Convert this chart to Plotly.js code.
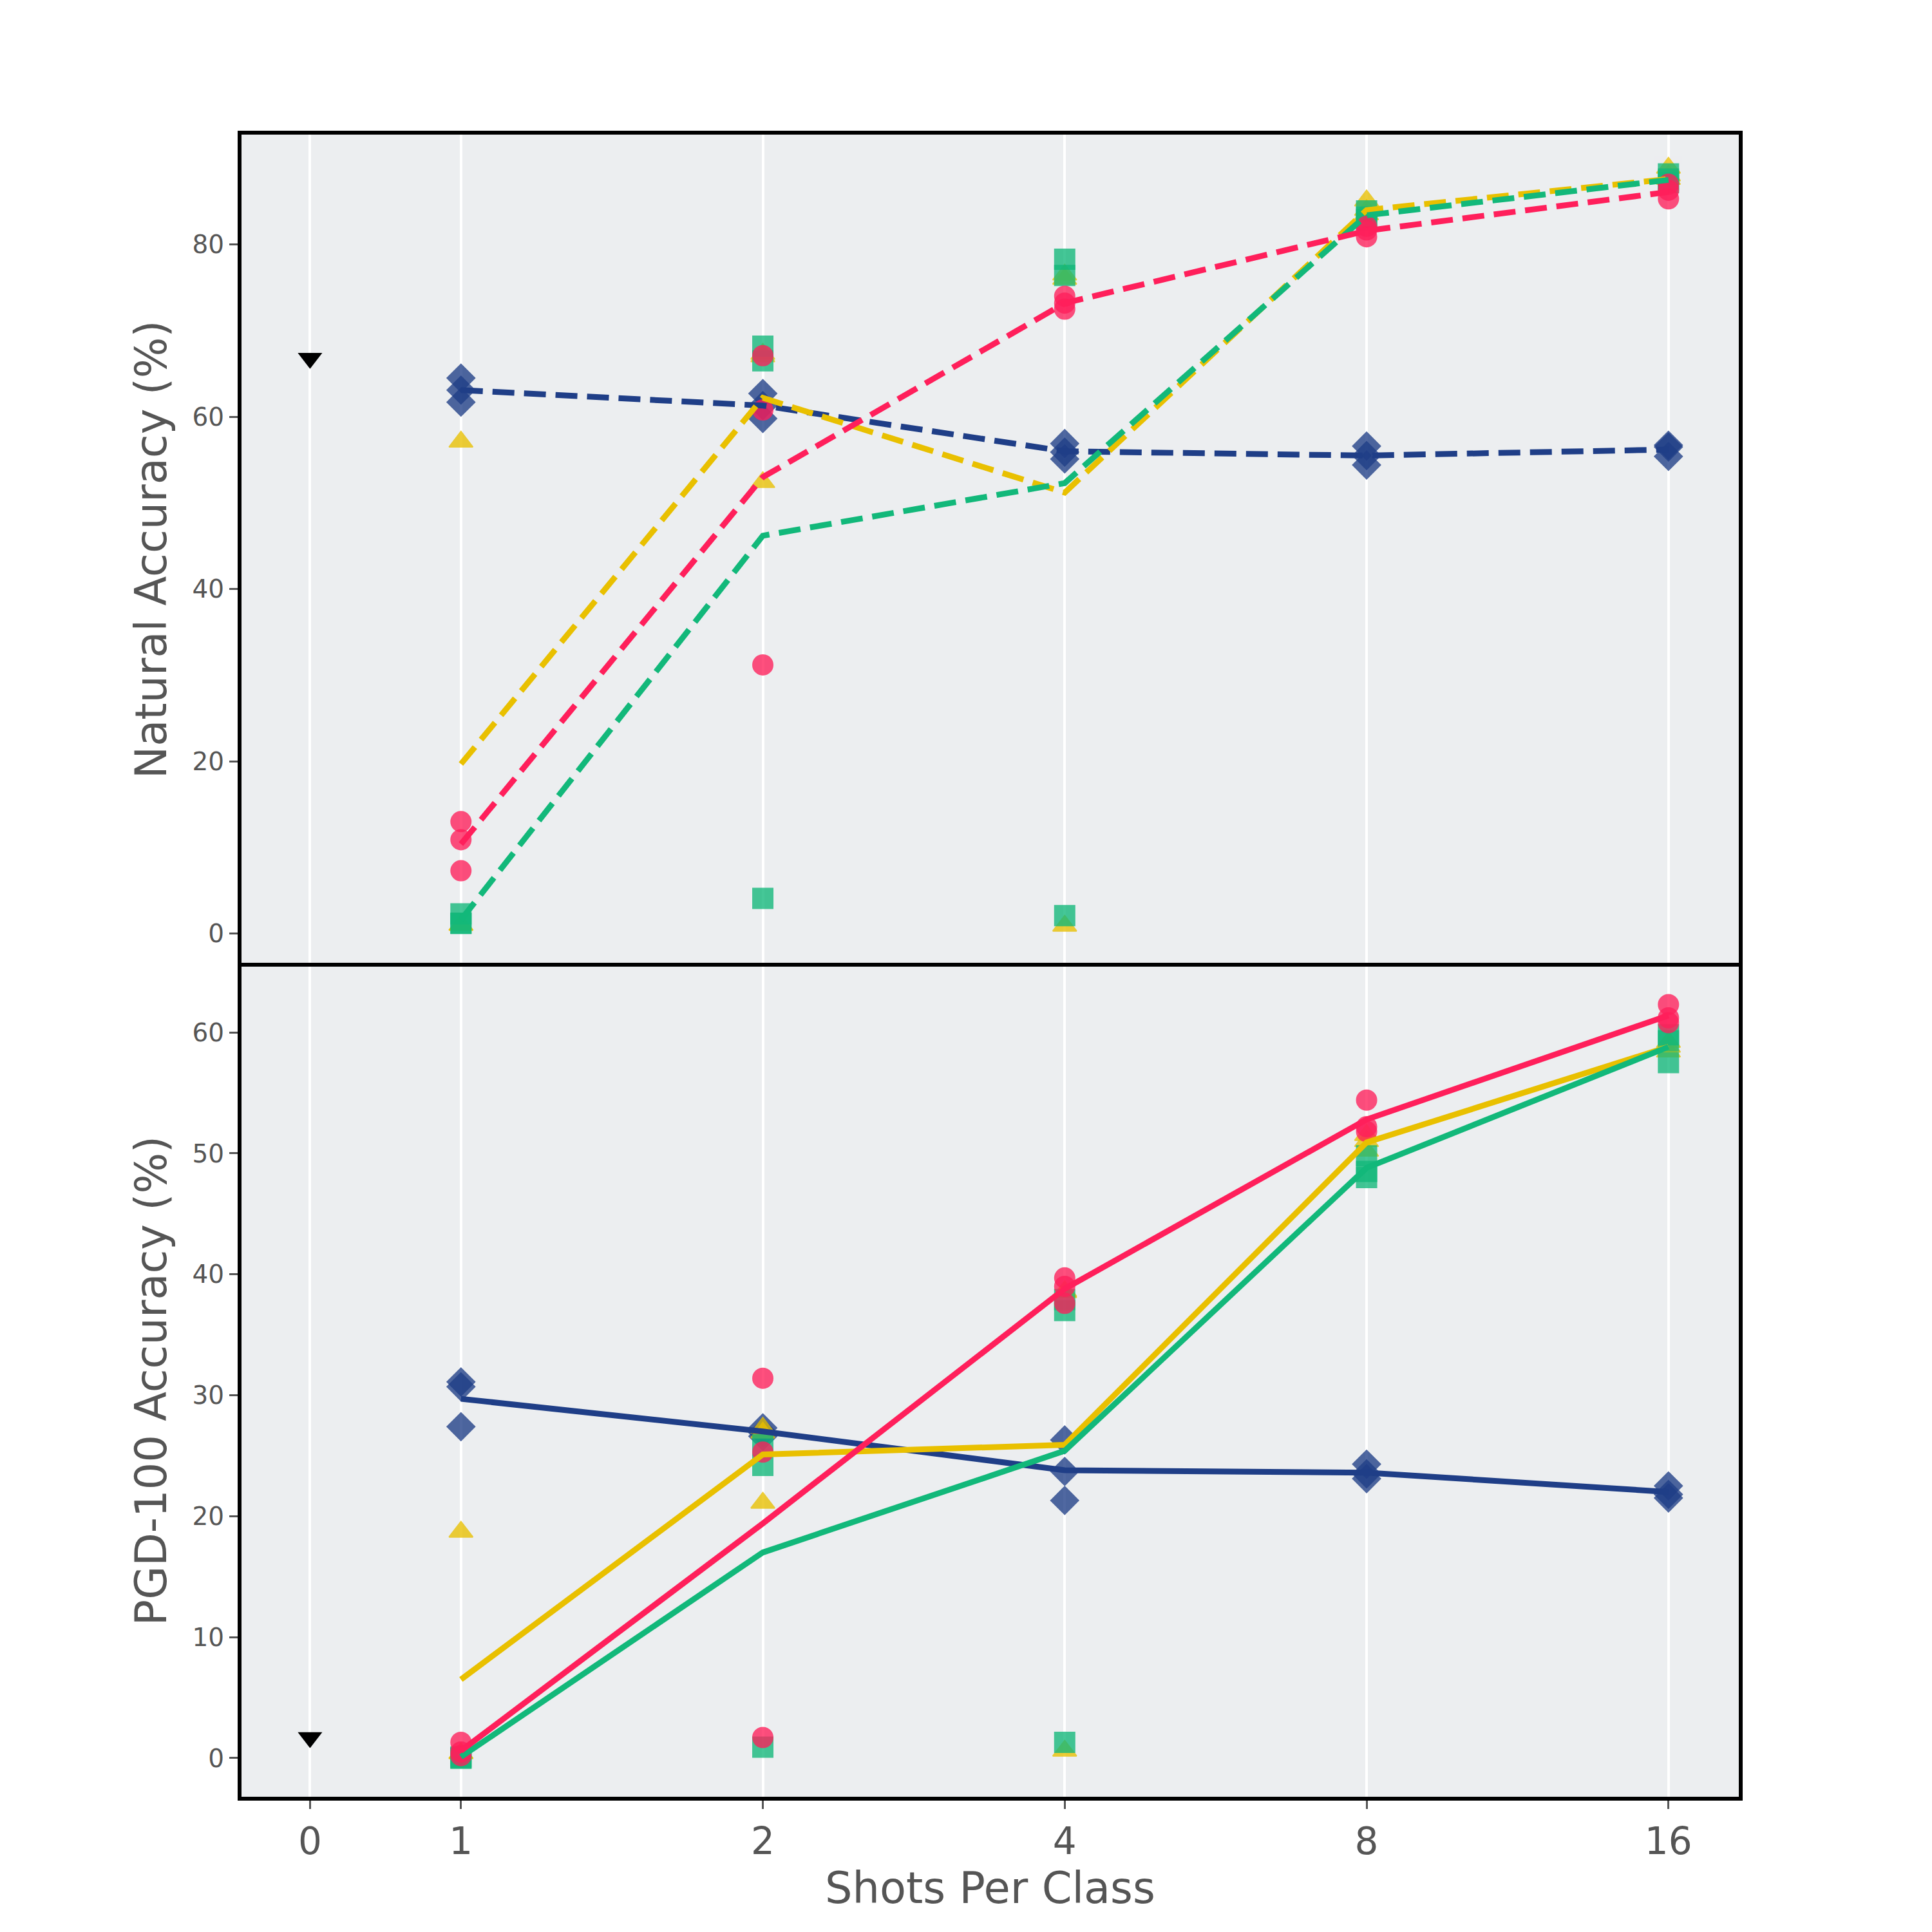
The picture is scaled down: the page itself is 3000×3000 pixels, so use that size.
<!DOCTYPE html>
<html>
<head>
<meta charset="utf-8">
<script src="https://cdn.plot.ly/plotly-3.0.1.min.js"></script>
<style>
  body { margin: 0; background: #fff; }
  #chart { width: 3000px; height: 3000px; }
</style>
</head>
<body>
<div id="chart"></div>
<script>
// shots per class, 0 is the zero-shot baseline
const shots = [1, 2, 4, 8, 16];
const tickShots = [0, 1, 2, 4, 8, 16];

// natural accuracy, three seeds per shot
const natNavySeeds = [[64.5, 63.1, 61.7], [62.7, 61.3, 59.8], [56.9, 55.9, 55.1], [56.6, 55.5, 54.4], [56.5, 56.7, 55.4]];
const natNavyMean = [63.1, 61.3, 56.0, 55.5, 56.2];
const natYellowSeeds = [[57.1, 1.0, 1.0], [52.4, 67.0, 67.3], [0.9, 76.0, 76.5], [85.1, 84.0, 83.5], [88.9, 88.0, 87.6]];
const natYellowMean = [19.7, 62.2, 51.2, 84.0, 87.6];
const natGreenSeeds = [[2.3, 1.2, 1.2], [68.2, 66.5, 4.1], [78.3, 76.4, 2.1], [83.9, 83.2, 82.9], [88.2, 87.6, 87.2]];
const natGreenMean = [1.6, 46.2, 52.3, 83.4, 87.5];
const natRedSeeds = [[13.0, 10.9, 7.3], [67.1, 60.8, 31.2], [74.0, 73.2, 72.5], [82.1, 81.7, 80.9], [87.0, 86.3, 85.3]];
const natRedMean = [10.4, 53.0, 73.2, 81.6, 86.1];
const natZeroShot = 66.8;

// PGD-100 accuracy, three seeds per shot
const pgdNavySeeds = [[31.1, 30.7, 27.4], [27.3, 26.9, 26.6], [26.3, 23.7, 21.3], [24.3, 23.5, 23.1], [22.5, 21.8, 21.5]];
const pgdNavyMean = [29.7, 27.0, 23.8, 23.6, 22.0];
const pgdYellowSeeds = [[18.7, 0.4, 0.4], [27.3, 21.1, 26.9], [0.6, 38.5, 38.6], [51.5, 51.0, 50.2], [59.2, 58.8, 58.4]];
const pgdYellowMean = [6.5, 25.1, 25.9, 50.9, 58.8];
const pgdGreenSeeds = [[0.1, 0.0, 0.0], [25.9, 24.2, 0.9], [37.0, 37.9, 1.3], [49.8, 48.5, 48.0], [59.8, 59.3, 57.5]];
const pgdGreenMean = [0.1, 17.0, 25.4, 48.8, 58.8];
const pgdRedSeeds = [[1.3, 0.5, 0.2], [31.4, 25.3, 1.7], [39.7, 39.0, 37.6], [54.4, 52.2, 51.8], [62.3, 61.2, 60.8]];
const pgdRedMean = [0.6, 19.4, 38.8, 52.8, 61.4];
const pgdZeroShot = 1.7;

const NAVY = "#1F3E87", YELLOW = "#E9C000", GREEN = "#12B87A", RED = "#FF1F5B";

// 0 sits half a step left of 1 on the log2 axis
const pos = (s) => (s === 0 ? -0.5 : Math.log2(s));

function seedTrace(seeds, color, symbol, size, xaxis, yaxis) {
  const xs = [], ys = [];
  seeds.forEach((vals, i) => {
    vals.forEach((v) => {
      xs.push(pos(shots[i]));
      ys.push(v);
    });
  });
  return {
    x: xs, y: ys, xaxis: xaxis, yaxis: yaxis, type: "scatter", mode: "markers", hoverinfo: "skip",
    marker: { color: color, symbol: symbol, size: size, opacity: 0.78, line: { color: color, width: 2 } },
  };
}

function meanTrace(vals, color, dash, xaxis, yaxis) {
  return {
    x: shots.map(pos), y: vals, xaxis: xaxis, yaxis: yaxis, type: "scatter", mode: "lines",
    line: { color: color, width: 9, dash: dash },
  };
}

function zeroTrace(v, xaxis, yaxis) {
  return {
    x: [pos(0)], y: [v], xaxis: xaxis, yaxis: yaxis, type: "scatter", mode: "markers",
    marker: { color: "black", symbol: "triangle-down", size: 33 },
  };
}

const DASH = "34px,15px";
const traces = [
  seedTrace(natNavySeeds, NAVY, "diamond", 33, "x", "y"),
  seedTrace(natYellowSeeds, YELLOW, "triangle-up", 32, "x", "y"),
  seedTrace(natGreenSeeds, GREEN, "square", 31, "x", "y"),
  seedTrace(natRedSeeds, RED, "circle", 31, "x", "y"),
  meanTrace(natNavyMean, NAVY, DASH, "x", "y"),
  meanTrace(natYellowMean, YELLOW, DASH, "x", "y"),
  meanTrace(natGreenMean, GREEN, DASH, "x", "y"),
  meanTrace(natRedMean, RED, DASH, "x", "y"),
  zeroTrace(natZeroShot, "x", "y"),

  seedTrace(pgdNavySeeds, NAVY, "diamond", 33, "x2", "y2"),
  seedTrace(pgdYellowSeeds, YELLOW, "triangle-up", 32, "x2", "y2"),
  seedTrace(pgdGreenSeeds, GREEN, "square", 31, "x2", "y2"),
  seedTrace(pgdRedSeeds, RED, "circle", 31, "x2", "y2"),
  meanTrace(pgdNavyMean, NAVY, "solid", "x2", "y2"),
  meanTrace(pgdYellowMean, YELLOW, "solid", "x2", "y2"),
  meanTrace(pgdGreenMean, GREEN, "solid", "x2", "y2"),
  meanTrace(pgdRedMean, RED, "solid", "x2", "y2"),
  zeroTrace(pgdZeroShot, "x2", "y2"),
];

const FONT = "DejaVu Sans";
const SPLIT = 0.5007;
const xCommon = {
  domain: [0.125, 0.9],
  range: [-0.727, 4.233],
  tickvals: tickShots.map(pos), ticktext: tickShots.map(String),
  showgrid: true, gridcolor: "white", gridwidth: 4, zeroline: false,
  showline: true, linecolor: "black", linewidth: 6, mirror: false,
  automargin: false,
};

const yCommon = {
  showgrid: false, zeroline: false,
  showline: true, linecolor: "black", linewidth: 6, mirror: true,
  ticks: "outside", ticklen: 13, tickwidth: 3, tickcolor: "#555",
  tickfont: { family: FONT, size: 39, color: "#555" },
  title: { font: { family: FONT, size: 67, color: "#555" }, standoff: 20 },
  automargin: false,
};

const layout = {
  width: 3000, height: 3000,
  margin: { l: 0, r: 0, t: 0, b: 0 },
  paper_bgcolor: "white", plot_bgcolor: "#ECEEF0",
  showlegend: false,
  // top panel: frame line on top only, the divider is a shape
  xaxis: Object.assign({}, xCommon, { anchor: "y", side: "top", showticklabels: false, ticks: "" }),
  xaxis2: Object.assign({}, xCommon, {
    anchor: "y2", matches: "x",
    ticks: "outside", ticklen: 13, tickwidth: 3, tickcolor: "#555",
    tickfont: { family: FONT, size: 58, color: "#555" },
    title: { text: "Shots Per Class", font: { family: FONT, size: 67, color: "#555" }, standoff: 8 },
  }),
  yaxis: Object.assign({}, yCommon, {
    domain: [SPLIT, 0.9305], anchor: "x", range: [-3.6, 92.8],
    tickvals: [0, 20, 40, 60, 80],
    title: Object.assign({}, yCommon.title, { text: "Natural Accuracy (%)" }),
  }),
  yaxis2: Object.assign({}, yCommon, {
    domain: [0.07, SPLIT], anchor: "x2", range: [-3.2, 65.6],
    tickvals: [0, 10, 20, 30, 40, 50, 60],
    title: Object.assign({}, yCommon.title, { text: "PGD-100 Accuracy (%)" }),
  }),
  shapes: [{
    type: "line", xref: "paper", yref: "paper", layer: "above",
    x0: 0.125, x1: 0.9, y0: SPLIT, y1: SPLIT,
    line: { color: "black", width: 6 },
  }],
};

Plotly.newPlot("chart", traces, layout, { staticPlot: true });
</script>
</body>
</html>
